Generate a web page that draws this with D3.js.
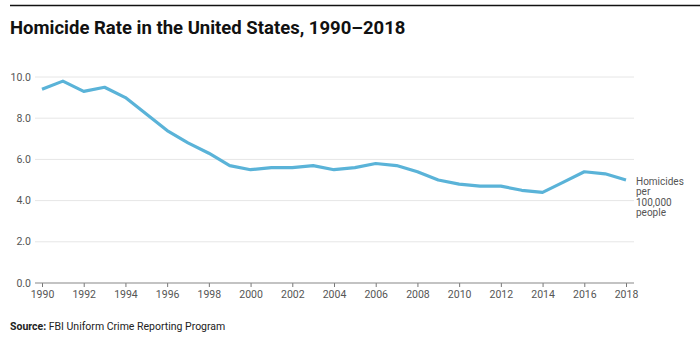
<!DOCTYPE html>
<html>
<head>
<meta charset="utf-8">
<script src="https://cdn.jsdelivr.net/npm/d3@7"></script>
<style>
  body { margin: 0; background: #fff; }
  svg { display: block; font-family: Roboto, "Open Sans", sans-serif; }
</style>
</head>
<body>
<svg id="chart"></svg>
<script>
// homicide rate per 100,000
var years = d3.range(1990, 2019);
var rates = [9.4, 9.8, 9.3, 9.5, 9.0, 8.2, 7.4, 6.8, 6.3, 5.7,
             5.5, 5.6, 5.6, 5.7, 5.5, 5.6, 5.8, 5.7, 5.4, 5.0,
             4.8, 4.7, 4.7, 4.5, 4.4, 4.9, 5.4, 5.3, 5.0];
var yTicks = [0, 2, 4, 6, 8, 10];
var xTicks = d3.range(1990, 2019, 2);
var unitLines = ["Homicides", "per", "100,000", "people"];

var W = 700, H = 339;
var svg = d3.select("#chart").attr("width", W).attr("height", H);

svg.append("line")
  .attr("x1", 10).attr("x2", W).attr("y1", 5.5).attr("y2", 5.5)
  .attr("stroke", "#111").attr("stroke-width", 1.5);

svg.append("text")
  .attr("x", 10).attr("y", 34)
  .attr("font-size", 18.5).attr("font-weight", 700).attr("fill", "#111")
  .text("Homicide Rate in the United States, 1990\u20132018");

var x = d3.scaleLinear().domain([1990, 2018]).range([42, 626]);
var y = d3.scaleLinear().domain([0, 10]).range([283, 77]);
var gridX0 = 35, gridX1 = 634;

// gridlines
svg.append("g").selectAll("line")
  .data(yTicks.filter(function (d) { return d > 0; }))
  .join("line")
  .attr("x1", gridX0).attr("x2", gridX1)
  .attr("y1", function (d) { return y(d); })
  .attr("y2", function (d) { return y(d); })
  .attr("stroke", "#e6e6e6").attr("stroke-width", 1);

// y labels
svg.append("g").selectAll("text")
  .data(yTicks)
  .join("text")
  .attr("x", 31).attr("y", function (d) { return y(d); })
  .attr("dy", "0.35em").attr("text-anchor", "end")
  .attr("font-size", 10.5).attr("fill", "#555")
  .text(function (d) { return d3.format(".1f")(d); });

// x axis
var xAxis = d3.axisBottom(x).tickValues(xTicks).tickFormat(d3.format("d"))
  .tickSize(4).tickSizeOuter(0);
var gx = svg.append("g").attr("transform", "translate(0," + y(0) + ")").call(xAxis);
gx.select(".domain").remove();
gx.selectAll(".tick line").attr("stroke", "#777");
gx.selectAll(".tick text").attr("font-size", 10.5).attr("fill", "#555")
  .attr("font-family", "Roboto, sans-serif").attr("y", 8);
svg.append("line")
  .attr("x1", gridX0).attr("x2", gridX1).attr("y1", y(0)).attr("y2", y(0))
  .attr("stroke", "#888").attr("stroke-width", 1.2);

// series
var line = d3.line()
  .x(function (d, i) { return x(years[i]); })
  .y(function (d) { return y(d); });
svg.append("path")
  .datum(rates)
  .attr("d", line)
  .attr("fill", "none")
  .attr("stroke", "#5ab3d8")
  .attr("stroke-width", 3.2)
  .attr("stroke-linejoin", "round");

// unit label
svg.append("text")
  .attr("x", 636).attr("y", 181)
  .attr("font-size", 10).attr("fill", "#555")
  .selectAll("tspan")
  .data(unitLines)
  .join("tspan")
  .attr("x", 636)
  .attr("dy", function (d, i) { return i === 0 ? "0.35em" : "1.05em"; })
  .text(function (d) { return d; });

// source
var src = svg.append("text")
  .attr("x", 10).attr("y", 330)
  .attr("font-size", 10.5).attr("fill", "#222");
src.append("tspan").attr("font-weight", 700).text("Source:");
src.append("tspan").text(" FBI Uniform Crime Reporting Program");
</script>
</body>
</html>
